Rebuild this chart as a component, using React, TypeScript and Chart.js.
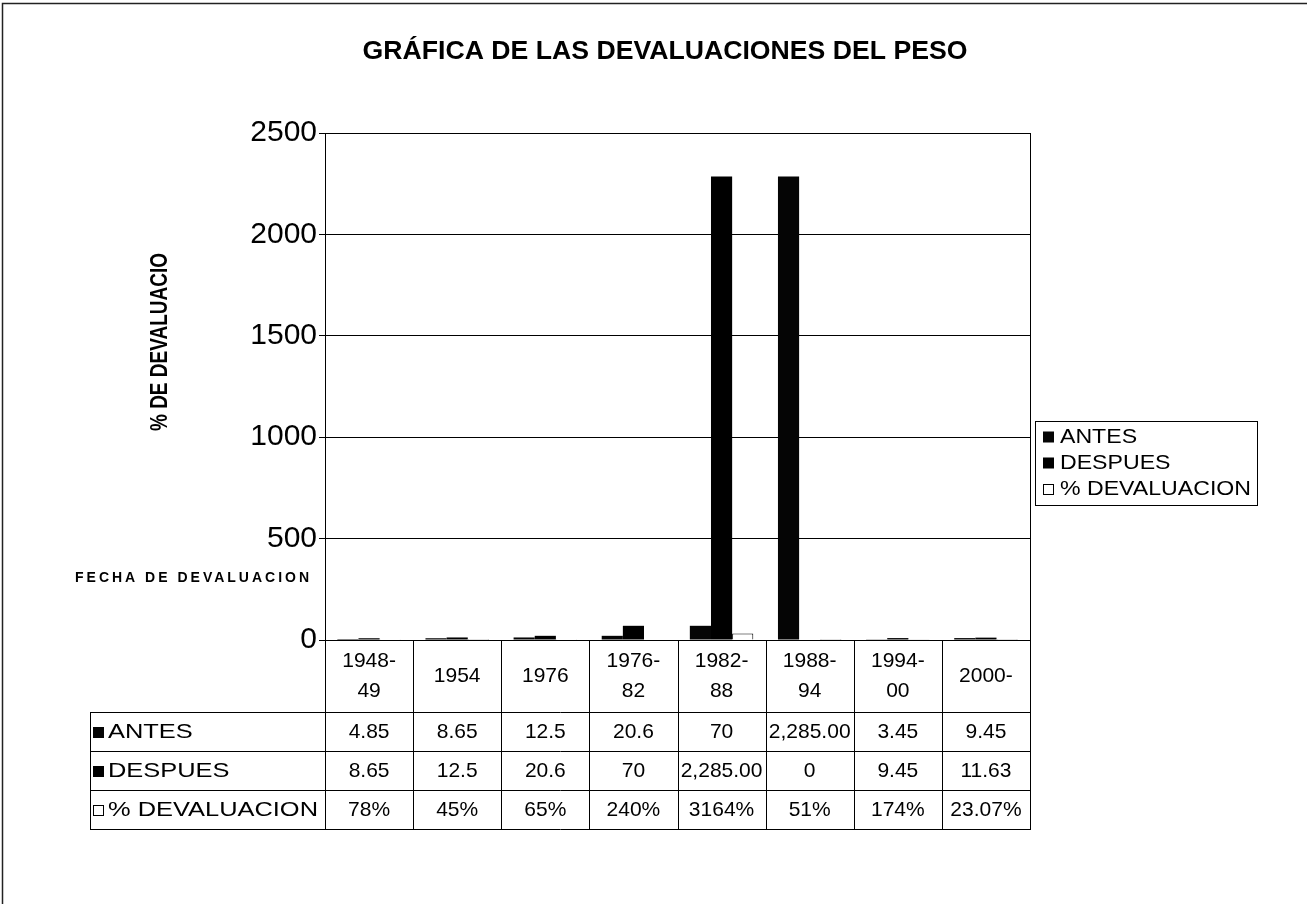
import React, { useEffect, useRef } from "react";
import { Chart, registerables } from "chart.js";

Chart.register(...registerables);

const FONT = "'Liberation Sans', Arial, Helvetica, sans-serif";

const chartTitle = "GRÁFICA DE LAS DEVALUACIONES DEL PESO";
const yAxisTitle = "% DE DEVALUACIO";
const xAxisTitle = "FECHA DE DEVALUACION";

const categories: string[][] = [
  ["1948-", "49"],
  ["1954"],
  ["1976"],
  ["1976-", "82"],
  ["1982-", "88"],
  ["1988-", "94"],
  ["1994-", "00"],
  ["2000-"],
];

const seriesNames = ["ANTES", "DESPUES", "% DEVALUACION"];

const antes = [4.85, 8.65, 12.5, 20.6, 70, 2285, 3.45, 9.45];
const despues = [8.65, 12.5, 20.6, 70, 2285, 0, 9.45, 11.63];
const devaluacion = [0.78, 0.45, 0.65, 2.4, 31.64, 0.51, 1.74, 0.2307];

const antesLabels = ["4.85", "8.65", "12.5", "20.6", "70", "2,285.00", "3.45", "9.45"];
const despuesLabels = ["8.65", "12.5", "20.6", "70", "2,285.00", "0", "9.45", "11.63"];
const devaluacionLabels = ["78%", "45%", "65%", "240%", "3164%", "51%", "174%", "23.07%"];

const yTicks = [0, 500, 1000, 1500, 2000, 2500];
const yTickLabels = ["0", "500", "1000", "1500", "2000", "2500"];

const seriesFill = ["#050505", "#000000", "#ffffff"];

function drawKey(ctx: CanvasRenderingContext2D, r: number, x: number, cy: number, size: number) {
  ctx.lineWidth = 1;
  if (r < 2) {
    ctx.fillStyle = seriesFill[r];
    ctx.fillRect(x, cy - size / 2, size, size);
  } else {
    ctx.fillStyle = "#fff";
    ctx.fillRect(x, cy - size / 2, size, size);
    ctx.strokeStyle = "#000";
    ctx.strokeRect(x + 0.5, Math.round(cy - size / 2) + 0.5, size - 1, size - 1);
  }
  ctx.fillStyle = "#000";
}

function drawWide(ctx: CanvasRenderingContext2D, text: string, x: number, y: number, sx: number) {
  ctx.save();
  ctx.translate(x, y);
  ctx.scale(sx, 1);
  ctx.fillText(text, 0, 0);
  ctx.restore();
}

const tablePlugin = {
  id: "excelTable",
  afterDraw(chart: any) {
    const ctx: CanvasRenderingContext2D = chart.ctx;
    const xs = chart.scales.x;
    const ca = chart.chartArea;
    const n = categories.length;
    const catW = (ca.right - ca.left) / n;

    ctx.save();
    ctx.fillStyle = "#000";

    // outer frame (left + top)
    ctx.lineWidth = 1.5;
    ctx.strokeStyle = "#222";
    ctx.beginPath();
    ctx.moveTo(2.5, 904);
    ctx.lineTo(2.5, 3.5);
    ctx.lineTo(1307, 3.5);
    ctx.stroke();
    ctx.strokeStyle = "#000";

    // title
    ctx.font = `bold 25px ${FONT}`;
    ctx.textBaseline = "middle";
    ctx.textAlign = "center";
    const tw = ctx.measureText(chartTitle).width;
    drawWide(ctx, chartTitle, 665, 52, 605 / tw);

    // y axis title (rotated, glyphs slightly taller across)
    ctx.save();
    ctx.translate(160, 342);
    ctx.rotate(-Math.PI / 2);
    ctx.scale(1, 1.25);
    ctx.font = `bold 19px ${FONT}`;
    ctx.textAlign = "center";
    ctx.fillText(yAxisTitle, 0, 0);
    ctx.restore();

    // x axis title
    ctx.save();
    ctx.font = `bold 14px ${FONT}`;
    (ctx as any).letterSpacing = "3px";
    ctx.textAlign = "left";
    ctx.fillText(xAxisTitle, 75, 578);
    (ctx as any).letterSpacing = "0px";
    ctx.restore();

    // plot right border
    ctx.lineWidth = 1;
    ctx.beginPath();
    ctx.moveTo(Math.round(ca.right) + 0.5, ca.top);
    ctx.lineTo(Math.round(ca.right) + 0.5, ca.bottom);
    ctx.stroke();

    // data table
    const headerBottom = 712;
    const rowH = 39;
    const tableLeft = 90;
    const tableBottom = headerBottom + rowH * 3;
    const bounds: number[] = [];
    for (let i = 0; i < n; i++) bounds.push(xs.getPixelForValue(i) - catW / 2);
    bounds.push(xs.getPixelForValue(n - 1) + catW / 2);

    ctx.beginPath();
    bounds.forEach((b) => {
      const x = Math.round(b) + 0.5;
      ctx.moveTo(x, ca.bottom);
      ctx.lineTo(x, tableBottom);
    });
    ctx.moveTo(tableLeft + 0.5, headerBottom);
    ctx.lineTo(tableLeft + 0.5, tableBottom);
    for (let r = 0; r <= 3; r++) {
      const y = headerBottom + r * rowH + 0.5;
      ctx.moveTo(tableLeft, y);
      ctx.lineTo(Math.round(bounds[n]) + 1, y);
    }
    ctx.stroke();

    ctx.font = `21px ${FONT}`;
    ctx.textAlign = "center";
    ctx.textBaseline = "middle";
    const headerMid = (ca.bottom + headerBottom) / 2;
    categories.forEach((lines, i) => {
      const cx = xs.getPixelForValue(i);
      const lh = 30;
      const start = headerMid - ((lines.length - 1) * lh) / 2;
      lines.forEach((ln, k) => ctx.fillText(ln, cx, start + k * lh));
    });

    const labelScale = 210 / ctx.measureText(seriesNames[2]).width;
    const rows = [antesLabels, despuesLabels, devaluacionLabels];
    rows.forEach((vals, r) => {
      const cy = headerBottom + r * rowH + rowH / 2 + 1;
      drawKey(ctx, r, 93, cy, 11);
      ctx.textAlign = "left";
      drawWide(ctx, seriesNames[r], 108, cy, labelScale);
      ctx.textAlign = "center";
      vals.forEach((v, i) => ctx.fillText(v, xs.getPixelForValue(i), cy));
    });

    // legend
    const lx = 1035, ly = 421, lw = 222, lhgt = 84;
    ctx.lineWidth = 1;
    ctx.strokeStyle = "#000";
    ctx.strokeRect(lx + 0.5, ly + 0.5, lw, lhgt);
    ctx.font = `20px ${FONT}`;
    ctx.textAlign = "left";
    const legScale = 191 / ctx.measureText(seriesNames[2]).width;
    seriesNames.forEach((name, r) => {
      const cy = ly + 16 + r * 26;
      drawKey(ctx, r, 1043, cy, 11);
      drawWide(ctx, name, 1060, cy, legScale);
    });

    ctx.restore();
  },
};

export default function App() {
  const ref = useRef<HTMLCanvasElement | null>(null);

  useEffect(() => {
    document.body.style.margin = "0";
    document.body.style.overflow = "hidden";
    if (!ref.current) return;
    const chart = new Chart(ref.current, {
      type: "bar",
      data: {
        labels: categories.map((c) => c.join("")),
        datasets: [
          { label: seriesNames[0], data: antes, backgroundColor: seriesFill[0], borderWidth: 0 },
          { label: seriesNames[1], data: despues, backgroundColor: seriesFill[1], borderWidth: 0 },
          {
            label: seriesNames[2],
            data: devaluacion,
            backgroundColor: seriesFill[2],
            borderColor: "#000",
            borderWidth: 1,
          },
        ],
      },
      options: {
        responsive: false,
        animation: false,
        devicePixelRatio: 1,
        layout: { padding: { left: 0, top: 133, right: 1307 - 1030, bottom: 904 - 640 } },
        datasets: { bar: { categoryPercentage: 0.72, barPercentage: 1 } },
        plugins: {
          legend: { display: false },
          title: { display: false },
          tooltip: { enabled: false },
        },
        scales: {
          x: {
            grid: { display: false, drawTicks: false },
            border: { display: true, color: "#000", width: 1 },
            ticks: { display: false },
            afterFit: (s: any) => {
              s.height = 0;
            },
          },
          y: {
            min: 0,
            max: 2500,
            afterBuildTicks: (s: any) => {
              s.ticks = yTicks.map((v) => ({ value: v }));
            },
            ticks: {
              color: "#000",
              padding: 2,
              font: { family: FONT, size: 30 },
              callback: (_v: any, i: number) => yTickLabels[i],
            },
            grid: { color: "#000", lineWidth: 1, tickLength: 6, drawTicks: true },
            border: { display: true, color: "#000", width: 1 },
            afterFit: (s: any) => {
              s.width = 325;
            },
          },
        },
      } as any,
      plugins: [tablePlugin],
    });
    return () => chart.destroy();
  }, []);

  return (
    <div style={{ width: 1307, height: 904, position: "relative", background: "#fff" }}>
      <canvas ref={ref} width={1307} height={904} style={{ display: "block" }} />
    </div>
  );
}
